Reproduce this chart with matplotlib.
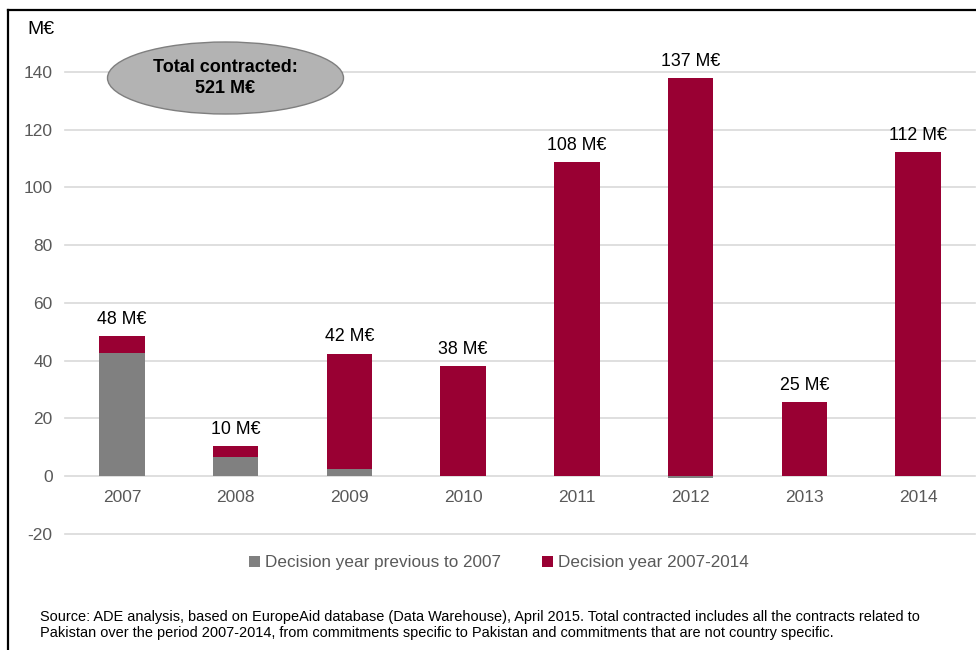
import matplotlib
matplotlib.use("Agg")
import matplotlib.pyplot as plt
from matplotlib.patches import Ellipse
from matplotlib.lines import Line2D
import numpy as np

plt.rcParams['font.family'] = ['Liberation Sans', 'DejaVu Sans']

years = ["2007", "2008", "2009", "2010", "2011", "2012", "2013", "2014"]
prev_values = [42.5, 6.5, 2.5, 0.0, 0.0, -0.6, 0.0, 0.0]
new_values = [5.9, 3.9, 39.9, 38.1, 108.7, 137.8, 25.5, 112.2]
total_labels = ["48 M€", "10 M€", "42 M€", "38 M€", "108 M€", "137 M€", "25 M€", "112 M€"]
legend_labels = ["Decision year previous to 2007", "Decision year 2007-2014"]
yticks = [-20, 0, 20, 40, 60, 80, 100, 120, 140]

GRAY = "#808080"
CRIMSON = "#990033"
TICK = "#595959"

W, H = 976, 650
fig = plt.figure(figsize=(W / 100, H / 100), dpi=100)
ax = fig.add_axes([65 / W, 1 - 533.7 / H, (975 - 65) / W, (533.7 - 72) / H])

x = np.arange(len(years))
prev = np.array(prev_values)
new = np.array(new_values)
bottoms = np.maximum(prev, 0)

ax.bar(x, prev, width=0.4, color=GRAY, label=legend_labels[0], zorder=3)
ax.bar(x, new, bottom=bottoms, width=0.4, color=CRIMSON, label=legend_labels[1], zorder=3)

for xi, top, lab in zip(x, bottoms + new, total_labels):
    ax.annotate(lab, (xi, top), xytext=(0, 6), textcoords="offset points",
                ha="center", va="bottom", fontsize=12.8, color="black")

ax.set_xlim(-0.5, len(years) - 0.5)
ax.set_ylim(-20, 140)
ax.spines['bottom'].set_position(('data', 0))
ax.set_yticks(yticks)
ax.set_yticklabels([str(v) for v in yticks])
ax.set_xticks(x)
ax.set_xticklabels(years)
for s in ax.spines.values():
    s.set_visible(False)
ax.tick_params(axis='both', length=0, labelsize=12.5, labelcolor=TICK)
ax.tick_params(axis='x', pad=10)
ax.tick_params(axis='y', pad=9)
ax.yaxis.grid(True, color="#d9d9d9", linewidth=1.2, zorder=0)
ax.set_axisbelow(True)
for gl in ax.get_ygridlines():
    gl.set_clip_on(False)

# M€ unit label
fig.text(27 / W, 1 - 30 / H, "M€", fontsize=14, color="black", ha="left", va="center")

# Ellipse annotation
ell = Ellipse((225.5 / W, 1 - 78 / H), 236 / W, 72 / H, transform=fig.transFigure,
              facecolor="#b3b3b3", edgecolor="#7f7f7f", linewidth=1, zorder=5)
fig.patches.append(ell)
fig.text(225.5 / W, 1 - 78 / H, "Total contracted:\n521 M€", ha="center", va="center",
         fontsize=13, fontweight="bold", color="black", linespacing=1.25, zorder=6)

# Legend
fig.legend(loc="center", bbox_to_anchor=(499 / W, 1 - 563 / H), ncol=2, frameon=False,
           fontsize=12.3, labelcolor=TICK, handlelength=0.65, handleheight=0.65,
           handletextpad=0.3, columnspacing=2.4)

# Source
fig.text(40 / W, 1 - 625 / H,
         "Source: ADE analysis, based on EuropeAid database (Data Warehouse), April 2015. Total contracted includes all the contracts related to\n"
         "Pakistan over the period 2007-2014, from commitments specific to Pakistan and commitments that are not country specific.",
         fontsize=10.45, color="black", ha="left", va="center", linespacing=1.2)

# Frame lines (left and top)
fig.add_artist(Line2D([8 / W, 8 / W], [1 - 10 / H, 0], transform=fig.transFigure, color="black", linewidth=1.6))
fig.add_artist(Line2D([8 / W, 1], [1 - 10 / H, 1 - 10 / H], transform=fig.transFigure, color="black", linewidth=1.6))

fig.savefig("out.png", dpi=100, facecolor="white")
